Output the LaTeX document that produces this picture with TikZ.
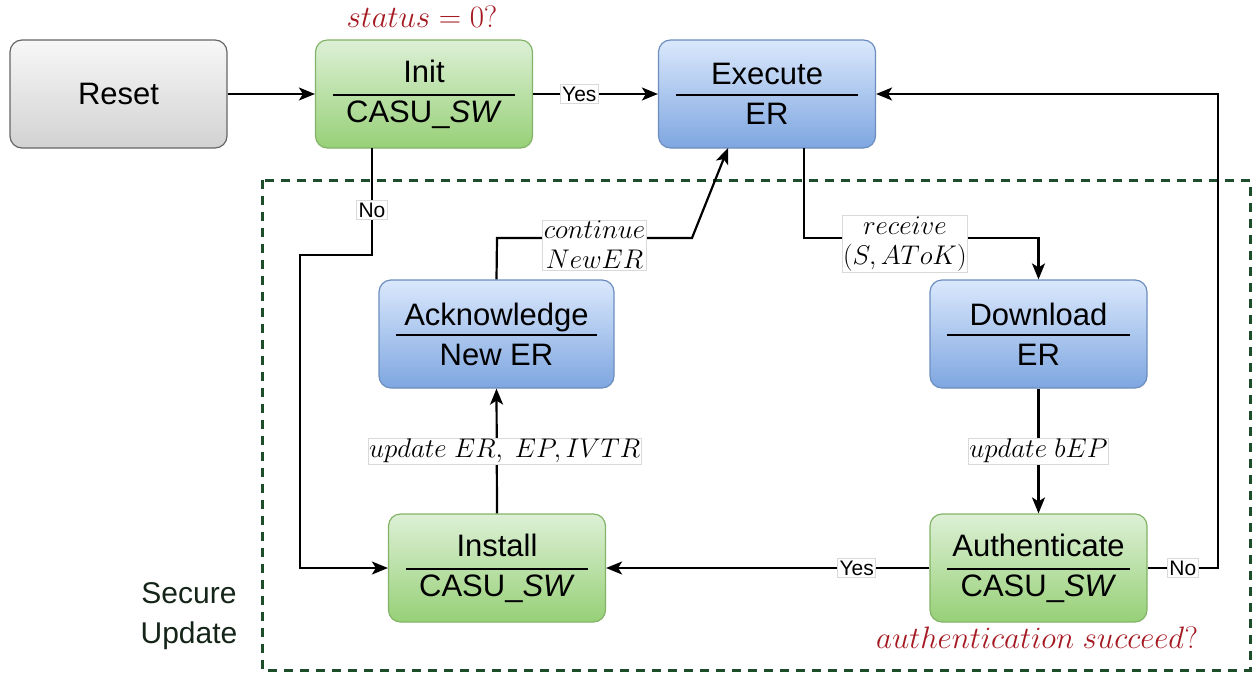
\RequirePackage{fix-cm}
\documentclass[tikz,border=0pt]{standalone}
\usepackage{fontspec}
\setmainfont{Liberation Sans}
\usetikzlibrary{arrows.meta,calc}
\definecolor{grayline}{HTML}{666666}
\definecolor{graytop}{HTML}{F7F7F7}
\definecolor{graybot}{HTML}{D2D2D2}
\definecolor{greenline}{HTML}{82B366}
\definecolor{greentop}{HTML}{DDF0D6}
\definecolor{greenbot}{HTML}{97D077}
\definecolor{blueline}{HTML}{6C8EBF}
\definecolor{bluetop}{HTML}{DAE8FC}
\definecolor{bluebot}{HTML}{7EA6E0}
\definecolor{condred}{HTML}{A51A22}
\definecolor{secgreen}{HTML}{1E4D2B}
\definecolor{sectext}{HTML}{142419}
\begin{document}
\begin{tikzpicture}[x=1pt,y=-1pt,
  box/.style={rounded corners=12pt, minimum width=217pt, minimum height=108pt,
    line width=1.2pt, align=center, inner sep=0pt,
    font=\fontsize{31}{40}\selectfont},
  graybox/.style={box, draw=grayline, top color=graytop, bottom color=graybot},
  greenbox/.style={box, draw=greenline, top color=greentop, bottom color=greenbot},
  bluebox/.style={box, draw=blueline, top color=bluetop, bottom color=bluebot},
  divider/.style={line width=1.8pt, black},
  conn/.style={line width=2.2pt, -{Stealth[length=16pt,width=13pt,inset=4pt]}},
  lbl/.style={fill=white, draw=black!15, line width=0.6pt, inner sep=2pt,
    font=\fontsize{21}{24}\selectfont},
  mlbl/.style={fill=white, draw=black!15, line width=0.6pt, inner sep=1pt,
    align=center, font=\fontsize{27}{30}\selectfont},
  cond/.style={text=condred, font=\fontsize{31}{34}\selectfont},
]
\useasboundingbox (0,0) rectangle (1260,677);

% secure update region
\draw[secgreen, line width=3pt, dash pattern=on 9pt off 7pt] (262,180) rectangle (1250,670);
\node[text=sectext, align=center, font=\fontsize{30}{40}\selectfont] (sec) at (189,616) {Secure\\Update};

% states
\node[graybox] (reset) at (118.5,94) {Reset};
\node[greenbox] (init) at (424,94) {Init\\CASU\_\textit{SW}};
\node[bluebox] (exec) at (767,94) {Execute\\ER};
\node[bluebox, minimum width=235pt] (ack) at (496.5,334) {Acknowledge\\New ER};
\node[bluebox] (down) at (1038.5,334) {Download\\ER};
\node[greenbox] (inst) at (497,568) {Install\\CASU\_\textit{SW}};
\node[greenbox] (auth) at (1038.5,568) {Authenticate\\CASU\_\textit{SW}};

\foreach \n in {init,exec,ack,down,inst,auth}
  \draw[divider] ($(\n.west)+(18,1)$) -- ($(\n.east)+(-18,1)$);

% conditions
\node[cond] (c1) at (422,17) {$status = 0?$};
\node[cond] (c2) at (1037,638) {$authentication\ succeed?$};

% connectors
\draw[conn] (reset.east) -- (init.west);
\draw[conn] (init.east) -- node[lbl, pos=0.37] {Yes} (exec.west);
\coordinate (n0) at (372,148);
\coordinate (n1) at (372,255);
\coordinate (n2) at (300,255);
\coordinate (n3) at (300,568);
\draw[conn] (n0) -- node[lbl, pos=0.58] {No} (n1) -- (n2) -- (n3) -- (inst.west);

\coordinate (r0) at (804,148);
\coordinate (r1) at (804,238);
\coordinate (r2) at (1038.5,238);
\draw[conn] (r0) -- (r1) -- node[mlbl, pos=0.43, yshift=-6pt] {$receive$\\$(S, AToK)$} (r2) -- (down.north);

\draw[conn] (down.south) -- node[mlbl, pos=0.5] {$update\ bEP$} (auth.north);
\draw[conn] (auth.west) -- node[lbl, pos=0.225] {Yes} (inst.east);

\coordinate (a1) at (1218,568);
\coordinate (a2) at (1218,94);
\draw[conn] (auth.east) -- node[lbl, pos=0.5] {No} (a1) -- (a2) -- (exec.east);

\draw[conn] (inst.north) -- node[mlbl, pos=0.5, xshift=8pt] {$update\ ER,\ EP, IVTR$} (ack.south);

\coordinate (k1) at (497,238);
\coordinate (k2) at (692,238);
\coordinate (k3) at (728,148);
\draw[conn] (ack.north) -- (k1) -- node[mlbl, pos=0.5, yshift=-7pt] {$continue$\\$NewER$} (k2) -- (k3);
\end{tikzpicture}
\end{document}
